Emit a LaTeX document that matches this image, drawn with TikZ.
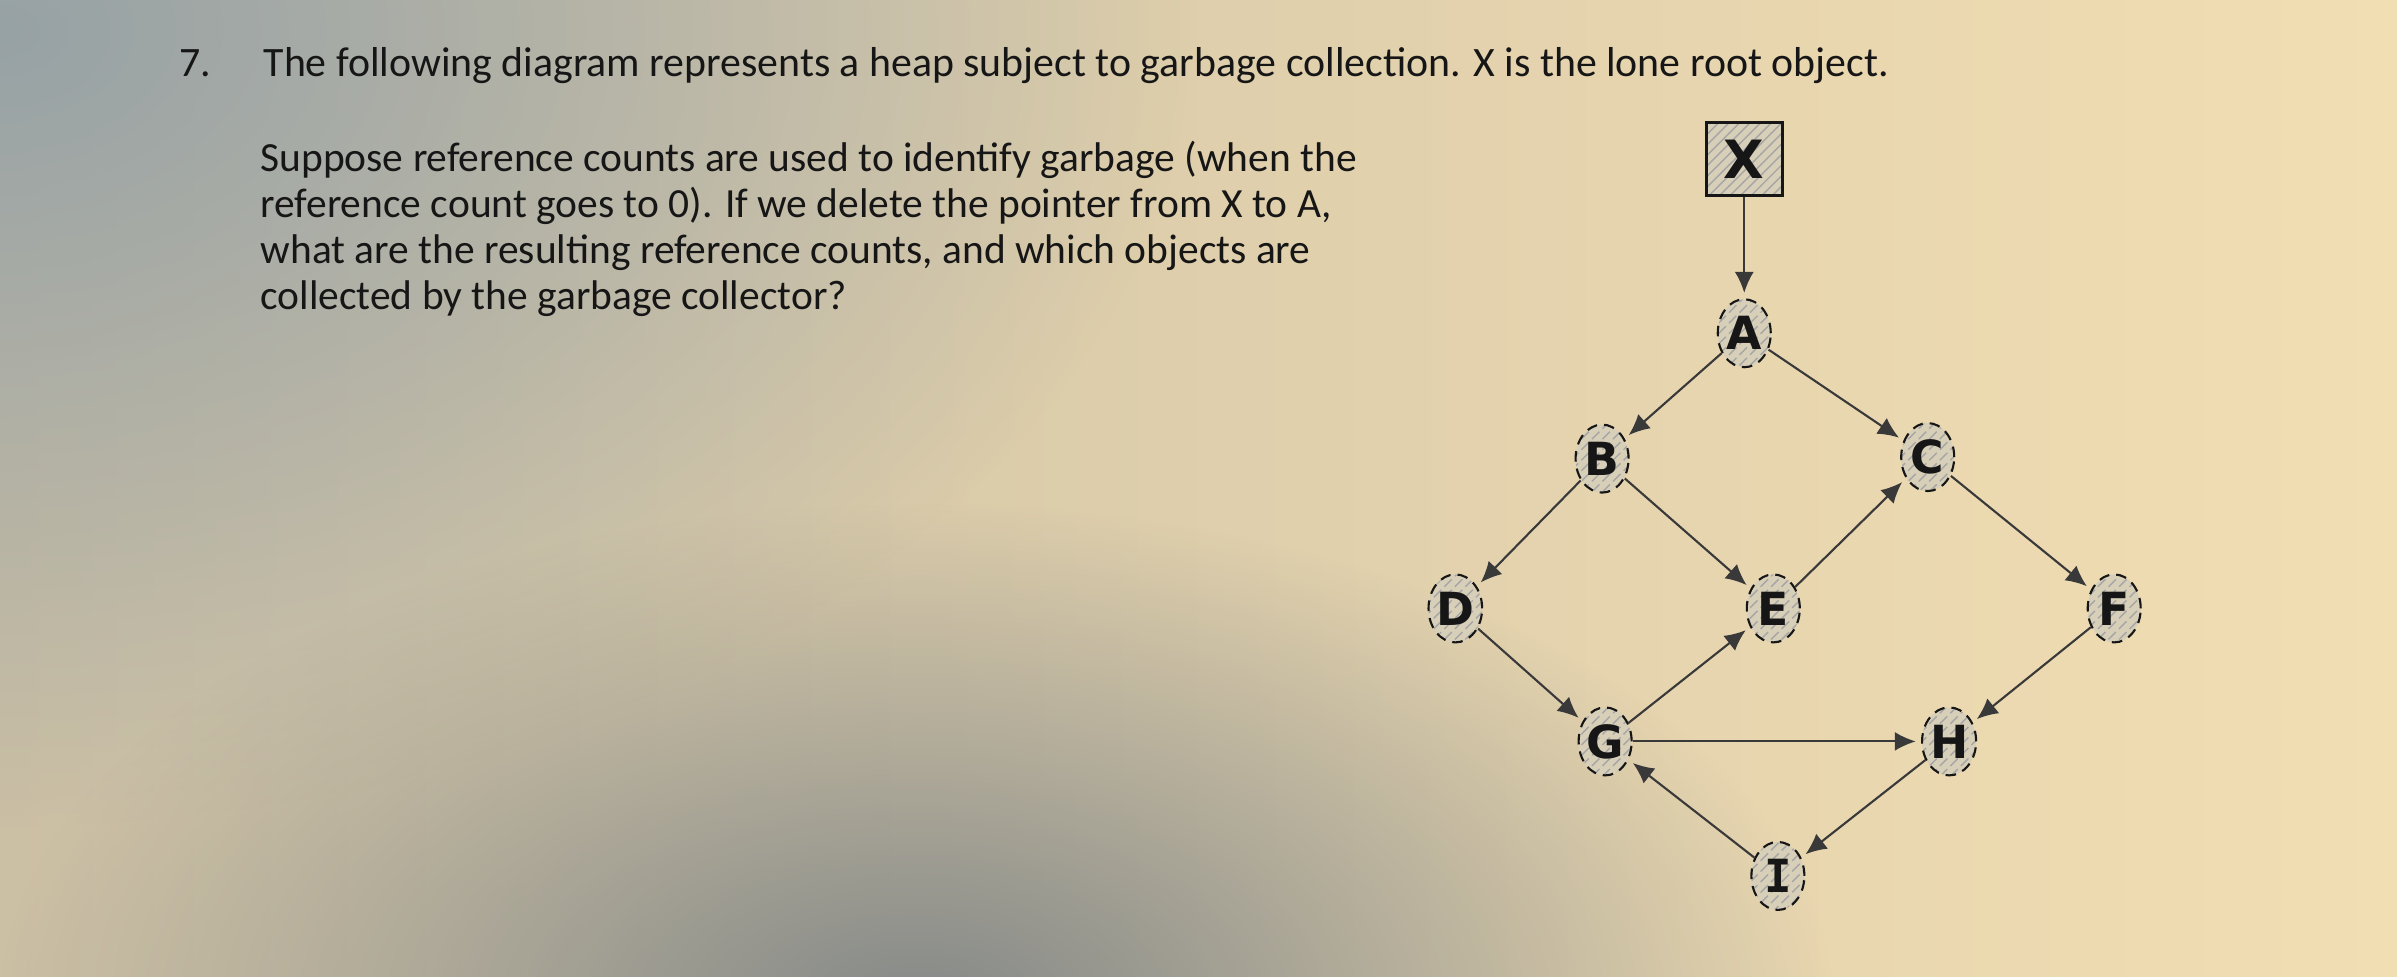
\documentclass[tikz,border=0pt]{standalone}
\usepackage{fontspec}
\setmainfont{Carlito}
\newfontfamily\objfont{DejaVu Sans}
\newfontfamily\objmono{DejaVu Sans Mono}
\usetikzlibrary{arrows.meta,patterns,shapes.geometric,fadings}

\definecolor{paper}{HTML}{F2DEB3}
\definecolor{paperleft}{HTML}{CBBFA4}
\definecolor{coldgray}{HTML}{97A2A6}
\definecolor{shadowgray}{HTML}{858988}
\definecolor{ink}{HTML}{161616}
\definecolor{hatchbg}{HTML}{D8CFB8}

\tikzfading[name=softblob, inner color=transparent!0, outer color=transparent!100]

\begin{document}
\begin{tikzpicture}[x=0.1529mm, y=-0.1529mm,
    obj/.style={ellipse, draw=ink, densely dashed, semithick, inner sep=0pt,
        minimum width=5.3mm, minimum height=6.8mm,
        preaction={fill=hatchbg}, pattern=north east lines, pattern color=gray!70,
        font=\objfont\bfseries\fontsize{13}{13}\selectfont, text=ink},
    root/.style={rectangle, draw=ink, thick, inner sep=0pt,
        minimum width=7.6mm, minimum height=7.3mm,
        preaction={fill=hatchbg}, pattern=north east lines, pattern color=gray!70,
        font=\objfont\bfseries\fontsize{15}{15}\selectfont, text=ink},
    ptr/.style={draw=ink!85, semithick, -{Latex[length=2.1mm,width=1.9mm]}, shorten >=1.5pt}]

    % Photographed page background
    \useasboundingbox (0,0) rectangle (1568,639);
    \shade[left color=paperleft, right color=paper] (0,0) rectangle (1568,639);
    \fill[coldgray, path fading=softblob] (0,20) ellipse (780 and 520);
    \fill[shadowgray, path fading=softblob] (600,660) ellipse (600 and 330);

    % Question text
    \node[anchor=base west, inner sep=0pt, text=ink, font=\fontsize{11.9}{14}\selectfont] (num) at (117,50) {7.};
    \node[anchor=base west, inner sep=0pt, text=ink, font=\fontsize{11.9}{14}\selectfont] (title) at (172,50)
        {The following diagram represents a heap subject to garbage collection. X is the lone root object.};
    \node[anchor=north west, inner sep=0pt, align=left, text=ink, font=\fontsize{11.8}{13.1}\selectfont] (question) at (170,92)
        {Suppose reference counts are used to identify garbage (when the\\
         reference count goes to 0). If we delete the pointer from X to A,\\
         what are the resulting reference counts, and which objects are\\
         collected by the garbage collector?};

    % Heap objects
    \node[root] (X) at (1141,104) {X};
    \node[obj] (A) at (1141,218) {A};
    \node[obj] (B) at (1048,300) {B};
    \node[obj] (C) at (1261,299) {C};
    \node[obj] (D) at (952,398) {D};
    \node[obj] (E) at (1160,398) {E};
    \node[obj] (F) at (1383,398) {F};
    \node[obj] (G) at (1050,485) {G};
    \node[obj] (H) at (1275,485) {H};
    \node[obj, font=\objmono\bfseries\fontsize{13}{13}\selectfont] (I) at (1163,573) {I};

    % Pointers
    \draw[ptr] (X) -- (A);
    \draw[ptr] (A) -- (B);
    \draw[ptr] (A) -- (C);
    \draw[ptr] (B) -- (D);
    \draw[ptr] (B) -- (E);
    \draw[ptr] (E) -- (C);
    \draw[ptr] (C) -- (F);
    \draw[ptr] (D) -- (G);
    \draw[ptr] (G) -- (E);
    \draw[ptr] (G) -- (H);
    \draw[ptr] (F) -- (H);
    \draw[ptr] (H) -- (I);
    \draw[ptr] (I) -- (G);
\end{tikzpicture}
\end{document}
